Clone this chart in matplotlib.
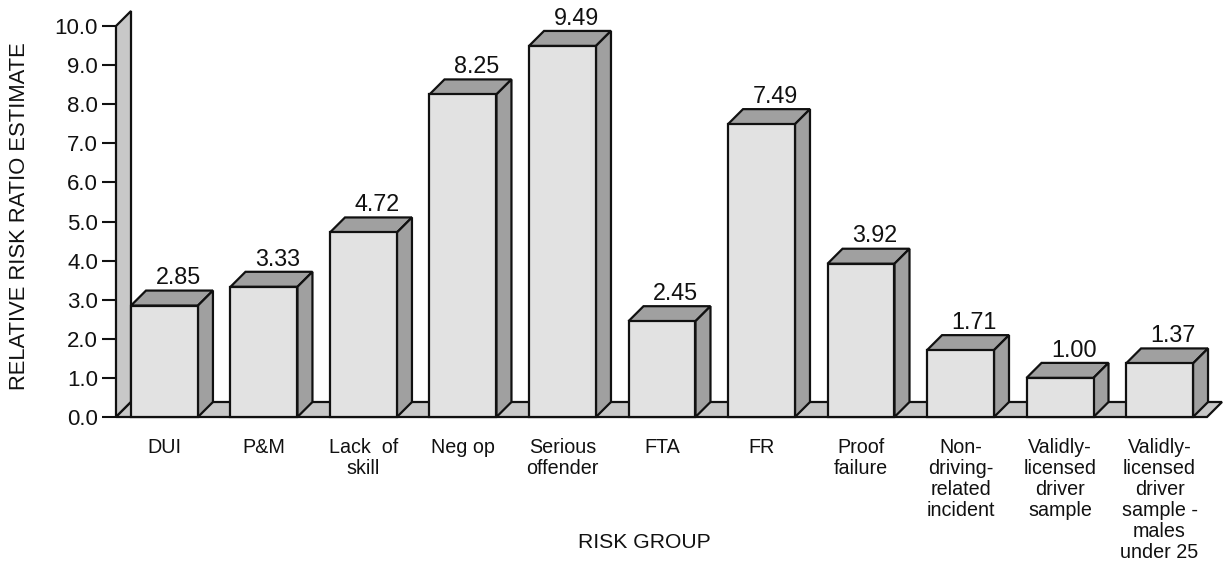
import matplotlib
matplotlib.use('Agg')
import matplotlib.pyplot as plt
from matplotlib.patches import Polygon

plt.rcParams['font.family'] = ['Liberation Sans', 'DejaVu Sans']

groups = ['DUI', 'P&M', 'Lack  of\nskill', 'Neg op', 'Serious\noffender', 'FTA', 'FR',
          'Proof\nfailure', 'Non-\ndriving-\nrelated\nincident',
          'Validly-\nlicensed\ndriver\nsample',
          'Validly-\nlicensed\ndriver\nsample -\nmales\nunder 25']
ratios = [2.85, 3.33, 4.72, 8.25, 9.49, 2.45, 7.49, 3.92, 1.71, 1.00, 1.37]
yticks = [0, 1, 2, 3, 4, 5, 6, 7, 8, 9, 10]

W, H = 1224, 563
fig = plt.figure(figsize=(W / 100, H / 100), dpi=100)
# axes box = front plane of the fake 3d chart
ax = fig.add_axes([116 / W, 1 - 417 / H, (1207 - 116) / W, (417 - 26) / H])
x0, x1 = -0.487, 10.477
ax.set_xlim(x0, x1)
ax.set_ylim(0, 10)

# depth of the 3d effect, in data units
dx = 15 / 99.5
dy = 15 / 39.1
bw = 0.673
line = dict(edgecolor='#111111', linewidth=1.6, joinstyle='miter', clip_on=False)

# wall and floor
ax.add_patch(Polygon([(x0, 0), (x0, 10), (x0 + dx, 10 + dy), (x0 + dx, dy)],
                     facecolor='#c8c8c8', zorder=1, **line))
ax.add_patch(Polygon([(x0, 0), (x0 + dx, dy), (x1 + dx, dy), (x1, 0)],
                     facecolor='#c8c8c8', zorder=1, **line))

for i, v in enumerate(ratios):
    l = i - bw / 2
    r = i + bw / 2
    ax.add_patch(Polygon([(l, v), (l + dx, v + dy), (r + dx, v + dy), (r, v)],
                         facecolor='#a0a0a0', zorder=2, **line))
    ax.add_patch(Polygon([(r, 0), (r, v), (r + dx, v + dy), (r + dx, dy)],
                         facecolor='#a0a0a0', zorder=2, **line))
    ax.add_patch(Polygon([(l, 0), (l, v), (r, v), (r, 0)],
                         facecolor='#e2e2e2', zorder=3, **line))
    ax.annotate('%.2f' % v, xy=(i + dx, v + dy), xytext=(-1, 4.5), textcoords='offset points',
                ha='center', va='baseline', fontsize=16.8, color='#111111')

for s in ax.spines.values():
    s.set_visible(False)
ax.patch.set_visible(False)

ax.set_yticks(yticks)
ax.set_yticklabels(['%.1f' % t for t in yticks], fontsize=16, color='#111111')
ax.tick_params(axis='y', length=10, width=1.5, pad=3, color='#111111')
ax.set_xticks(range(len(groups)))
ax.set_xticklabels(groups, fontsize=14.2, color='#111111', linespacing=1.14)
ax.tick_params(axis='x', length=0, pad=15)

fig.text(644 / W, 1 - 542 / H, 'RISK GROUP', fontsize=15.2, ha='center', va='center', color='#111111')
fig.text(20 / W, 1 - 216 / H, 'RELATIVE RISK RATIO ESTIMATE', fontsize=15.8, rotation=90,
         ha='center', va='center', color='#111111')

fig.savefig('out.png', dpi=100)
